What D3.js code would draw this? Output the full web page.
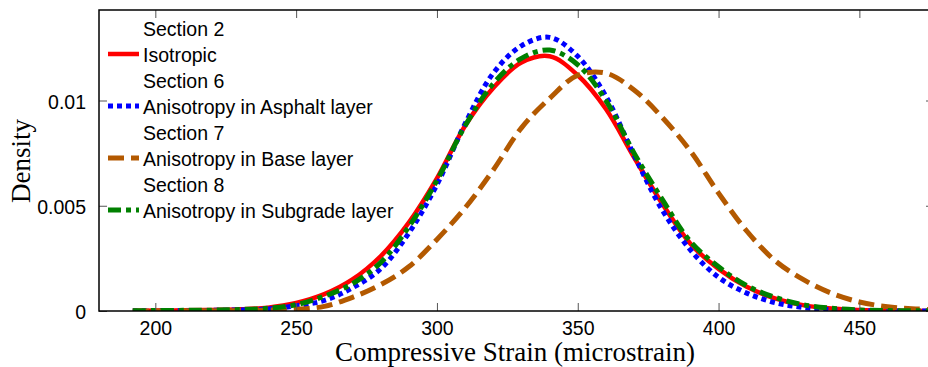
<!DOCTYPE html>
<html>
<head>
<meta charset="utf-8">
<script src="https://cdn.jsdelivr.net/npm/d3@7"></script>
<style>
body { margin: 0; background: #fff; }
text { font-family: "Liberation Sans", Arial, sans-serif; }
.tick line { stroke: #555; }
</style>
</head>
<body>
<svg width="928" height="367"></svg>
<script>
// strain values (microstrain) and density
var strain = [192, 200, 210, 220, 230, 240, 250, 260, 270, 280, 290, 300, 310, 320, 330, 340, 350, 360, 370, 380, 390, 400, 410, 420, 430, 440, 450, 460, 470, 480];
var isotropic = [0.00001, 0.00002, 0.00003, 0.00005, 0.00008, 0.00016, 0.00038, 0.0008, 0.0015, 0.0026, 0.0042, 0.0063, 0.0088, 0.0106, 0.0118, 0.0121, 0.0112, 0.0096, 0.0073, 0.0051, 0.0032, 0.0020, 0.00115, 0.0006, 0.00028, 0.00012, 0.00005, 0.00002, 0.00001, 0];
var asphalt = [0.00001, 0.00001, 0.00002, 0.00003, 0.00005, 0.0001, 0.00025, 0.0005, 0.0011, 0.0020, 0.0037, 0.0060, 0.0089, 0.0113, 0.0126, 0.0130, 0.0121, 0.0102, 0.0074, 0.0048, 0.0029, 0.0016, 0.00085, 0.0004, 0.00017, 0.00006, 0.00002, 0.00001, 0, 0];
var base = [0, 0, 0.00001, 0.00001, 0.00002, 0.00004, 0.00008, 0.00022, 0.00065, 0.00125, 0.0021, 0.0034, 0.0049, 0.0067, 0.0087, 0.0101, 0.0112, 0.0113, 0.0105, 0.0092, 0.0076, 0.0056, 0.0038, 0.0024, 0.0015, 0.00085, 0.00043, 0.0002, 0.0001, 0.00005];
var subgrade = [0.00001, 0.00002, 0.00003, 0.00004, 0.00007, 0.00013, 0.0003, 0.0007, 0.0013, 0.0023, 0.0040, 0.0062, 0.0088, 0.0108, 0.0120, 0.0124, 0.0117, 0.0100, 0.0075, 0.0053, 0.0033, 0.0021, 0.0012, 0.00065, 0.0003, 0.00013, 0.00005, 0.00002, 0.00001, 0];
var xTicks = [200, 250, 300, 350, 400, 450];
var yTicks = [0, 0.005, 0.01];
var yTickLabels = ['0', '0.005', '0.01'];
var sectionNames = ['Section 2', 'Section 6', 'Section 7', 'Section 8'];
var seriesNames = ['Isotropic', 'Anisotropy in Asphalt layer', 'Anisotropy in Base layer', 'Anisotropy in Subgrade layer'];

var svg = d3.select('svg');
var plotL = 99, plotR = 934, plotT = 10, plotB = 311;

var x = d3.scaleLinear().domain([180, 476.5]).range([plotL, plotR]);
var y = d3.scaleLinear().domain([0, 0.0143]).range([plotB, plotT]);

var styles = [
    {color: '#ff0000', dash: null, width: 4.5},
    {color: '#0000ff', dash: '5,4', width: 5},
    {color: '#b35900', dash: '16,7', width: 5},
    {color: '#008000', dash: '13,5,5,5', width: 5}
];
var series = [isotropic, asphalt, base, subgrade];

svg.append('clipPath').attr('id', 'plot')
  .append('rect')
    .attr('x', plotL).attr('y', plotT)
    .attr('width', plotR - plotL).attr('height', plotB - plotT);

var line = d3.line()
    .x(function(d) { return x(d[0]); })
    .y(function(d) { return y(d[1]); })
    .curve(d3.curveCatmullRom);

var g = svg.append('g').attr('clip-path', 'url(#plot)');
series.forEach(function(vals, i) {
    var pts = strain.map(function(s, j) { return [s, vals[j]]; });
    g.append('path')
        .datum(pts)
        .attr('fill', 'none')
        .attr('stroke', styles[i].color)
        .attr('stroke-width', styles[i].width)
        .attr('stroke-dasharray', styles[i].dash)
        .attr('d', line);
});

// axes, matlab style with inward ticks
var xAxis = d3.axisBottom(x).tickValues(xTicks).tickSize(-8).tickPadding(10).tickFormat(d3.format('d'));
var gx = svg.append('g')
    .attr('transform', 'translate(0,' + plotB + ')')
    .call(xAxis);
gx.select('.domain').remove();
gx.selectAll('text').attr('font-size', 19.5).attr('fill', '#000')
    .attr('font-family', '"Liberation Sans", Arial, sans-serif');

var gxt = svg.append('g')
    .attr('transform', 'translate(0,' + plotT + ')')
    .call(d3.axisTop(x).tickValues(xTicks).tickSize(-8).tickFormat(''));
gxt.select('.domain').remove();

var yAxis = d3.axisLeft(y).tickValues(yTicks).tickSize(-8).tickPadding(13)
    .tickFormat(function(d, i) { return yTickLabels[i]; });
var gy = svg.append('g')
    .attr('transform', 'translate(' + plotL + ',0)')
    .call(yAxis);
gy.select('.domain').remove();
gy.selectAll('text').attr('font-size', 19.5).attr('fill', '#000').attr('dy', '0.4em')
    .attr('font-family', '"Liberation Sans", Arial, sans-serif');

var gyr = svg.append('g')
    .attr('transform', 'translate(' + plotR + ',0)')
    .call(d3.axisRight(y).tickValues(yTicks).tickSize(-8).tickFormat(''));
gyr.select('.domain').remove();

svg.append('rect')
    .attr('x', plotL).attr('y', plotT)
    .attr('width', plotR - plotL).attr('height', plotB - plotT)
    .attr('fill', 'none').attr('stroke', '#000').attr('stroke-width', 1.5);

// legend
var lg = svg.append('g');
for (var i = 0; i < 4; i++) {
    var base0 = 36 + i * 52;
    lg.append('text').attr('x', 143).attr('y', base0)
        .attr('font-size', 19.5).text(sectionNames[i]);
    lg.append('text').attr('x', 143).attr('y', base0 + 26)
        .attr('font-size', 19.5).text(seriesNames[i]);
    lg.append('line')
        .attr('x1', 108).attr('x2', 139)
        .attr('y1', base0 + 18).attr('y2', base0 + 18)
        .attr('stroke', styles[i].color)
        .attr('stroke-width', styles[i].width)
        .attr('stroke-dasharray', styles[i].dash);
}

svg.append('text')
    .attr('x', 515).attr('y', 361)
    .attr('text-anchor', 'middle')
    .style('font-family', '"Liberation Serif", "Times New Roman", serif')
    .attr('font-size', 27)
    .text('Compressive Strain (microstrain)');

svg.append('text')
    .attr('transform', 'translate(30,161) rotate(-90)')
    .attr('text-anchor', 'middle')
    .style('font-family', '"Liberation Serif", "Times New Roman", serif')
    .attr('font-size', 27)
    .text('Density');
</script>
</body>
</html>
